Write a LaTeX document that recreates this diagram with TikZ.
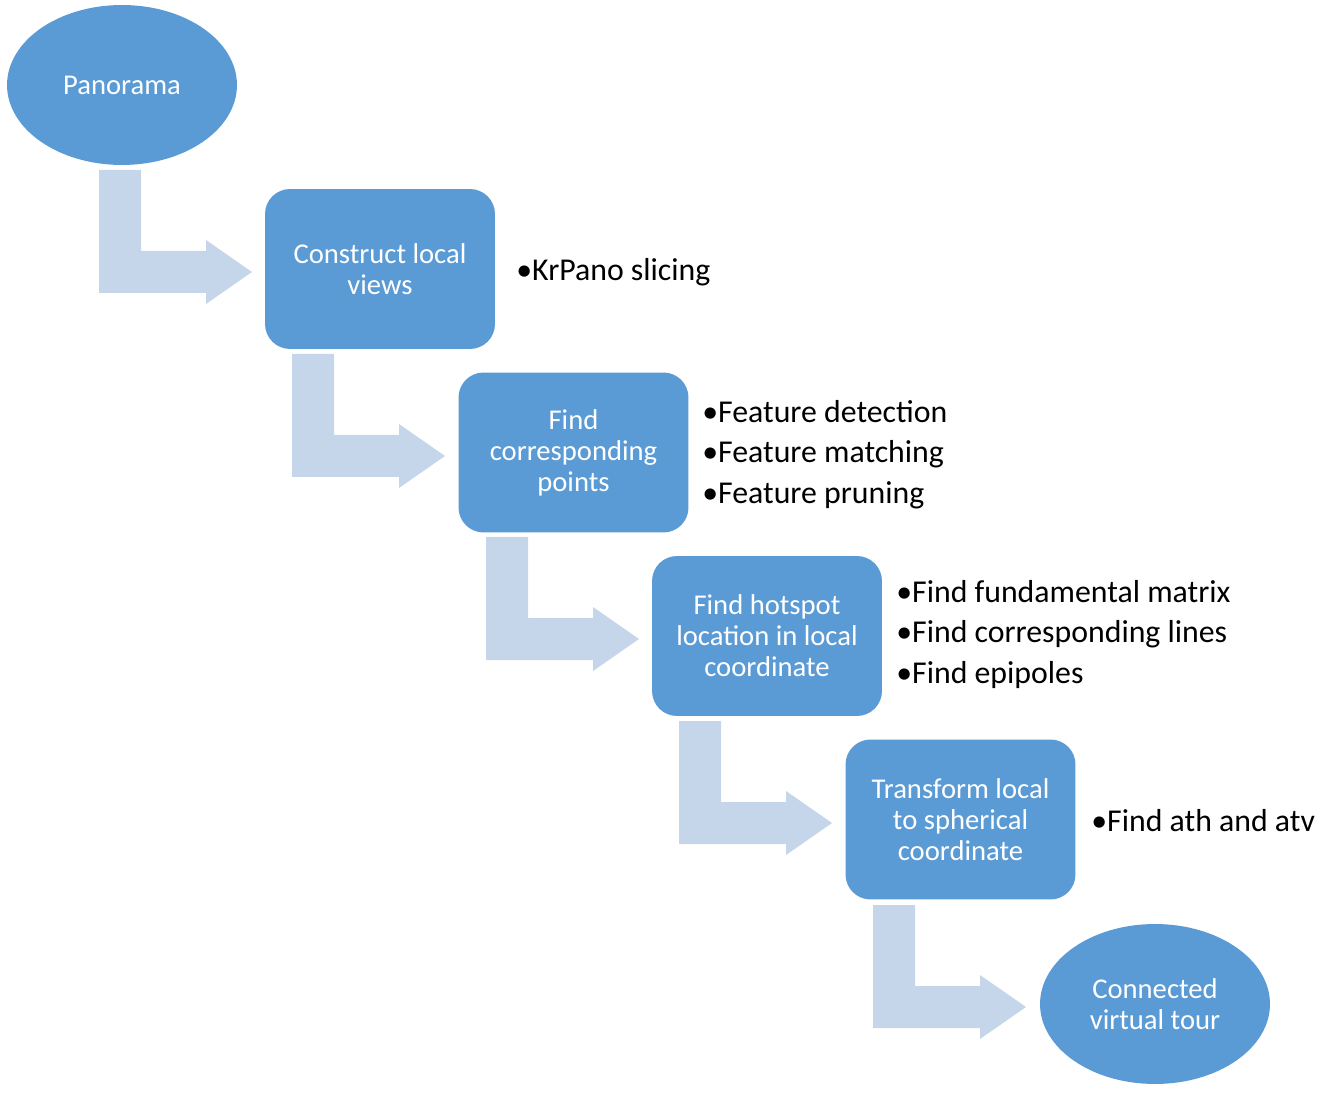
\documentclass[tikz,border=0pt]{standalone}
\usepackage{fontspec}
\setmainfont{Carlito}
\usetikzlibrary{shapes.geometric}

\definecolor{stepblue}{HTML}{5B9BD5}
\definecolor{arrowblue}{HTML}{C5D5EA}

\tikzset{
  stepbox/.style={rectangle, rounded corners=0.5cm, fill=stepblue, text=white,
    minimum width=4.6cm, minimum height=3.2cm, align=center, inner sep=2pt,
    font=\fontsize{16.3}{17.7}\selectfont},
  stepoval/.style={ellipse, fill=stepblue, text=white,
    minimum width=4.6cm, minimum height=3.2cm, align=center, inner sep=0pt,
    font=\fontsize{16.3}{17.7}\selectfont},
  notes/.style={anchor=west, align=left, inner sep=0pt,
    font=\fontsize{18.1}{22.9}\selectfont},
  flowarrow/.style={fill=arrowblue}
}

\begin{document}
\begin{tikzpicture}[x=0.02cm, y=-0.02cm]
\useasboundingbox (0,0) rectangle (1328,1097);

% Pfeile
	\foreach \ox/\oy in {99/170, 292/354, 486/537, 679/721, 873/905}
		\fill[flowarrow, shift={(\ox,\oy)}] (0,0) -- (42,0) -- (42,81) -- (107,81)
			-- (107,70) -- (153,102) -- (107,134) -- (107,123) -- (0,123) -- cycle;

% Schritte
\node[stepoval] (pano) at (122,85) {Panorama};
\node[stepbox] (views) at (380,269) {Construct local\\views};
\node[stepbox] (points) at (573.5,452.5) {Find\\corresponding\\points};
\node[stepbox] (hotspot) at (767,636) {Find hotspot\\location in local\\coordinate};
\node[stepbox] (sphere) at (960.5,819.5) {Transform local\\to spherical\\coordinate};
\node[stepoval] (tour) at (1155,1004) {Connected\\virtual tour};

% Stichpunkte
\node[notes] (n1) at (516,272) {•KrPano slicing};
\node[notes] (n2) at (702,454.5) {•Feature detection\\•Feature matching\\•Feature pruning};
\node[notes] (n3) at (896,634.5) {•Find fundamental matrix\\•Find corresponding lines\\•Find epipoles};
\node[notes] (n4) at (1091,821) {•Find ath and atv};
\end{tikzpicture}
\end{document}
